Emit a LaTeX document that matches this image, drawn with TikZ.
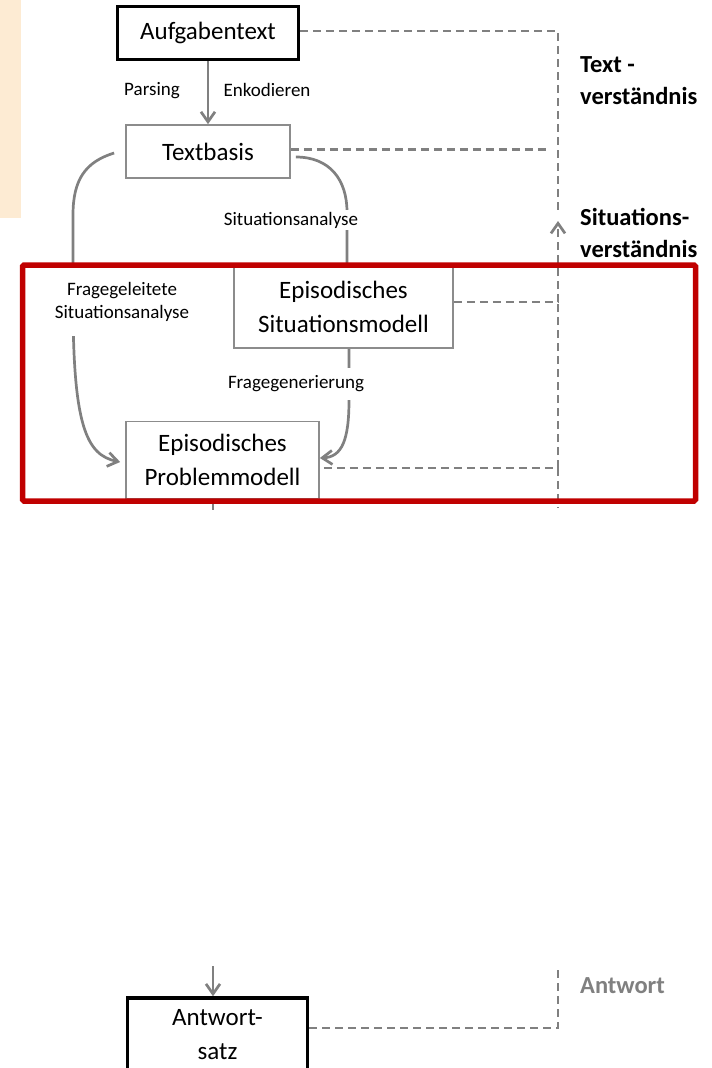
\documentclass[tikz,border=0pt]{standalone}
\usepackage{fontspec}
\setmainfont{Carlito}
\usetikzlibrary{arrows.meta,calc}
\definecolor{lgray}{HTML}{808080}
\definecolor{bgray}{HTML}{8C8C8C}
\definecolor{darkred}{HTML}{C00000}
\definecolor{peach}{HTML}{FDEBD3}
\pgfdeclarelayer{bg}
\pgfdeclarelayer{canvas}
\pgfsetlayers{canvas,bg,main}
\begin{document}
\begin{tikzpicture}[x=1pt,y=-1pt,
  boxfont/.style={font=\fontsize{25}{34}\selectfont},
  smallfont/.style={font=\fontsize{19}{23}\selectfont},
  sidefont/.style={font=\fontsize{24.5}{32}\selectfont\bfseries},
  blackbox/.style={draw=black,line width=3.5pt,inner sep=0pt,boxfont,align=center,fill=white},
  graybox/.style={draw=bgray,line width=1.7pt,inner sep=0pt,boxfont,align=center,fill=white},
  gline/.style={draw=lgray,line width=2.7pt},
  garrow/.style={gline,-{Straight Barb[length=10pt,width=14pt]}},
  dline/.style={draw=lgray,line width=2.7pt,dash pattern=on 8pt off 5pt},
  lbl/.style={smallfont,fill=white,inner xsep=2pt,align=center},
  sidelbl/.style={sidefont,anchor=west,align=left,inner sep=0pt},
]
\begin{pgfonlayer}{canvas}
\path[use as bounding box,fill=white] (0,0) rectangle (712,1068);
\end{pgfonlayer}
\clip (0,0) rectangle (712,1068);

% decoration strip
\node[fill=peach,minimum width=21pt,minimum height=218pt,inner sep=0pt,anchor=north west] (deco) at (0,0) {};

% boxes
\node[blackbox,minimum width=181pt,minimum height=53pt] (aufg) at (208,33) {Aufgabentext};
\node[graybox,minimum width=164pt,minimum height=53pt] (tb) at (208,151.5) {Textbasis};
\node[graybox,minimum width=219pt,minimum height=82pt] (sit) at (343.5,307) {Episodisches\\Situationsmodell};
\node[graybox,minimum width=193pt,minimum height=77pt] (prob) at (222.5,460) {Episodisches\\Problemmodell};
\node[blackbox,minimum width=180pt,minimum height=74pt] (antw) at (217.5,1035) {Antwort-\\satz};

% labels
\node[smallfont] (pars) at (152,91) {Parsing};
\node[smallfont] (enk) at (267,90) {Enkodieren};
\node[lbl,inner ysep=2pt] (sitan) at (291,220) {Situationsanalyse};
\node[lbl,inner ysep=14pt] (fgl) at (122,302) {Fragegeleitete\\Situationsanalyse};
\node[lbl,inner ysep=8pt] (fgen) at (296,384) {Fragegenerierung};
\node[sidelbl] (tv) at (580,81) {Text -\\verständnis};
\node[sidelbl] (sv) at (580,233) {Situations-\\verständnis};
\node[sidelbl,text=lgray] (aw) at (580,986) {Antwort};

% helper coordinates
\coordinate (vtop) at (558,214);
\coordinate (tbend) at (548,0);
\coordinate (vtip) at (558,221);
\coordinate (vsit) at (558,302);
\coordinate (vbot) at (558,508);
\coordinate (vant) at (558,967);
\coordinate (pe) at ($(prob.east)+(-9,8)$);
\coordinate (stubend) at ($(prob.south)+(-9.5,11)$);
\coordinate (ansstart) at ($(antw.north)+(-4.5,-30)$);

\begin{pgfonlayer}{bg}
% solid connectors
\draw[garrow] (aufg.south) -- (tb.north);
\draw[garrow] ($(tb.west)+(-11,1.5)$) .. controls (85,162) and (73,180) .. (73,215)
   -- (73,300) .. controls (73,425) and (86,455) .. ($(prob.west)+(-5,2)$);
\draw[gline] ($(tb.east)+(5,5.5)$) .. controls (330,157) and (347,180) .. (347,212)
   -- ($(sit.north)+(3.5,0)$);
\draw[garrow] ($(sit.south)+(5.5,0)$) -- (349,400) .. controls (349,440) and (342,457) .. ($(prob.east)+(0,-2)$);
\draw[gline] ($(prob.south)+(-9.5,0)$) -- (stubend);
\draw[garrow] (ansstart) -- (ansstart |- antw.north);

% dashed connectors
\draw[dline] ($(aufg.east)+(0,-2)$) -| (vtop);
\draw[dline] ($(tb.east)+(0,-2)$) -- ($(tb.east -| tbend)+(0,-2)$);
\draw[dline,-{Straight Barb[length=10pt,width=14pt]}] ($(sit.east)+(0,-5)$) -| (vtip);
\draw[dline] (pe) -| (vsit);
\draw[dline] (pe -| vsit) -- (vbot);
\draw[dline] ($(antw.east)+(0,-7)$) -| (vant);
\end{pgfonlayer}

% focus frame
\node[draw=darkred,line width=5.5pt,minimum width=673pt,minimum height=236pt,inner sep=0pt,rounded corners=1.5pt] (focus) at (359,383) {};
\end{tikzpicture}
\end{document}
